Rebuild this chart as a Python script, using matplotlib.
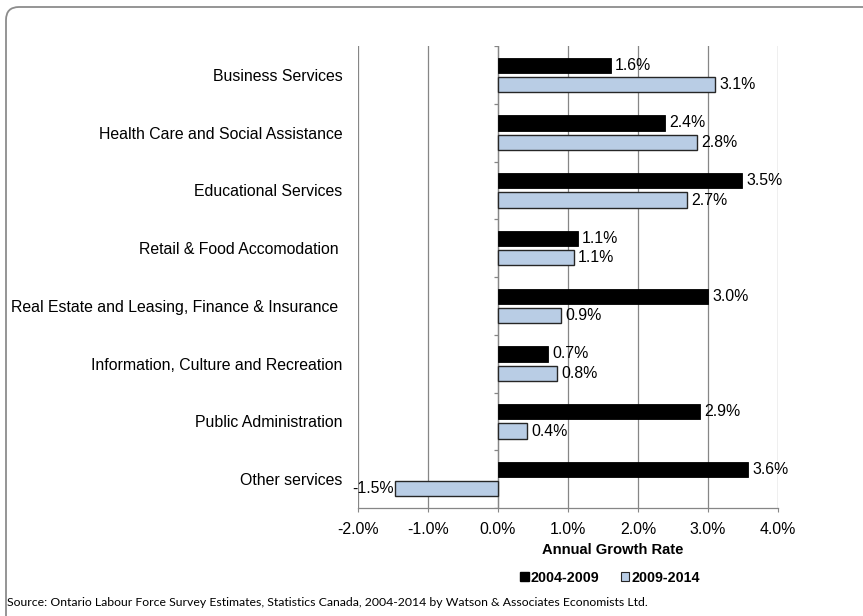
import numpy as np
import matplotlib.pyplot as plt
from matplotlib.patches import Patch, FancyBboxPatch
from matplotlib.ticker import FuncFormatter

categories = [
    "Business Services",
    "Health Care and Social Assistance",
    "Educational Services",
    "Retail & Food Accomodation ",
    "Real Estate and Leasing, Finance & Insurance ",
    "Information, Culture and Recreation",
    "Public Administration",
    "Other services",
]
growth_0409 = [1.61, 2.38, 3.49, 1.14, 3.00, 0.72, 2.89, 3.57]
growth_0914 = [3.10, 2.84, 2.70, 1.08, 0.90, 0.84, 0.42, -1.47]
series_names = ["2004-2009", "2009-2014"]
source_note = ("Source: Ontario Labour Force Survey Estimates, Statistics Canada, "
               "2004-2014 by Watson & Associates Economists Ltd.")

W, H = 863, 616
GRID = "#868686"
BLUE = "#B9CDE5"
FS = 11.4

plt.rcParams["font.family"] = ["Liberation Sans", "DejaVu Sans"]

fig = plt.figure(figsize=(W / 100, H / 100), dpi=100)
ax = fig.add_axes([358 / W, 1 - 508 / H, 420 / W, 462 / H])

y = np.arange(len(categories))
h = 0.265
off = 0.167
ax.barh(y - off, growth_0409, height=h, color="black", edgecolor="black",
        linewidth=0.6, zorder=3)
ax.barh(y + off, growth_0914, height=h, color=BLUE, edgecolor="#262626",
        linewidth=1.0, zorder=3)

# value labels at the bar ends
for vals, dy in ((growth_0409, -off), (growth_0914, off)):
    for yi, v in zip(y, vals):
        if v >= 0:
            ax.annotate(f"{v:.1f}%", (v, yi + dy), xytext=(3, 0),
                        textcoords="offset points", ha="left", va="center",
                        fontsize=FS, zorder=4)
        else:
            ax.annotate(f"{v:.1f}%", (v, yi + dy), xytext=(-1, 0),
                        textcoords="offset points", ha="right", va="center",
                        fontsize=FS, zorder=4)

ax.set_xlim(-2, 4)
ax.set_ylim(len(categories) - 0.5, -0.5)
ax.set_xticks(np.arange(-2, 5, 1))
ax.xaxis.set_major_formatter(FuncFormatter(lambda v, p: f"{v:.1f}%"))
ax.set_yticks(y)
ax.set_yticklabels(categories)
ax.tick_params(axis="y", length=0, pad=11, labelsize=FS)
ax.tick_params(axis="x", length=3, width=0.8, color=GRID, pad=7, labelsize=FS)

ax.grid(axis="x", color=GRID, linewidth=0.9, zorder=0)
for s in ("top", "right", "left"):
    ax.spines[s].set_visible(False)
ax.spines["bottom"].set_color(GRID)
ax.spines["bottom"].set_linewidth(0.9)

# category axis sits on zero, with small ticks between groups
ax.axvline(0, color=GRID, linewidth=0.9, zorder=2)
ax.hlines(np.arange(len(categories) + 1) - 0.5, -0.055, 0, color=GRID,
          linewidth=0.9, zorder=2)

fig.text(613 / W, 1 - 550 / H, "Annual Growth Rate", ha="center", va="center",
         fontsize=10.6, fontweight="bold")

handles = [Patch(facecolor="black", edgecolor="black"),
           Patch(facecolor=BLUE, edgecolor="#262626", linewidth=0.8)]
fig.legend(handles, series_names, loc="center", ncol=2,
           bbox_to_anchor=(610 / W, 1 - 578 / H), frameon=False,
           prop={"weight": "bold", "size": 10.3}, handlelength=0.6,
           handleheight=0.6, handletextpad=0.15, columnspacing=1.5)

fig.text(7 / W, 1 - 602 / H, source_note, ha="left", va="center",
         fontsize=8.8, family=["Lato", "DejaVu Sans"])

# rounded chart frame, running off the right and bottom edges
frame = FancyBboxPatch((0.06, -0.3), 9.0, 6.16 - 0.07 + 0.3,
                       boxstyle="round,pad=0,rounding_size=0.13",
                       transform=fig.dpi_scale_trans, facecolor="none",
                       edgecolor="#8C8C8C", linewidth=1.3)
fig.add_artist(frame)

fig.savefig("out.png", dpi=100)
